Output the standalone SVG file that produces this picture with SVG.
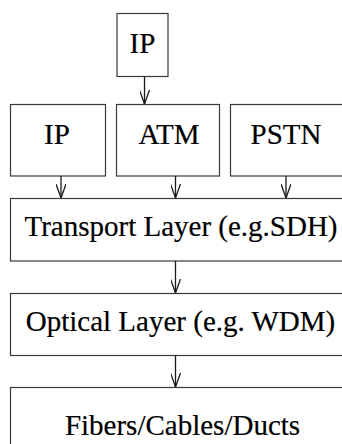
<svg xmlns="http://www.w3.org/2000/svg" width="342" height="444" viewBox="0 0 342 444">
  <style>
    .box { fill: #ffffff; stroke: #3a3a3a; stroke-width: 1.2; }
    .label { font-family: 'Liberation Serif', 'Times New Roman', Times, serif; font-size: 29px; fill: #000000; stroke: #000000; stroke-width: 0.2; text-anchor: middle; }
    .link { fill: none; stroke: #1a1a1a; stroke-width: 1.3; marker-end: url(#head); }
  </style>
  <defs>
    <marker id="head" viewBox="0 0 14 10" refX="14" refY="5" markerWidth="14" markerHeight="10" markerUnits="userSpaceOnUse" orient="auto">
      <path d="M0,0 L14,5 L0,10" fill="none" stroke="#1a1a1a" stroke-width="1.3"/>
    </marker>
  </defs>
  <rect width="342" height="444" fill="#ffffff"/>

  <g id="ip-top">
    <rect class="box" x="117" y="13.5" width="51" height="63"/>
    <text class="label" x="142.5" y="53">IP</text>
  </g>
  <g id="ip">
    <rect class="box" x="10.5" y="104.5" width="95" height="71.5"/>
    <text class="label" x="57" y="144">IP</text>
  </g>
  <g id="atm">
    <rect class="box" x="116.5" y="104.5" width="103" height="71.5"/>
    <text class="label" x="169" y="144">ATM</text>
  </g>
  <g id="pstn">
    <rect class="box" x="230.5" y="104.5" width="115" height="71.5"/>
    <text class="label" x="286" y="144">PSTN</text>
  </g>
  <g id="transport">
    <rect class="box" x="10.5" y="198.5" width="345" height="62.5"/>
    <text class="label" x="181" y="236">Transport Layer (e.g.SDH)</text>
  </g>
  <g id="optical">
    <rect class="box" x="10.5" y="293.5" width="345" height="62"/>
    <text class="label" x="180.5" y="331">Optical Layer (e.g. WDM)</text>
  </g>
  <g id="fibers">
    <rect class="box" x="10.5" y="387.5" width="345" height="70"/>
    <text class="label" x="182.5" y="435">Fibers/Cables/Ducts</text>
  </g>

  <g id="connectors">
    <path class="link" d="M144.5,76.5 V104"/>
    <path class="link" d="M61,176 V198"/>
    <path class="link" d="M175.5,176 V198"/>
    <path class="link" d="M286,176 V198"/>
    <path class="link" d="M175.5,261 V293"/>
    <path class="link" d="M175.5,355.5 V387"/>
  </g>
</svg>
